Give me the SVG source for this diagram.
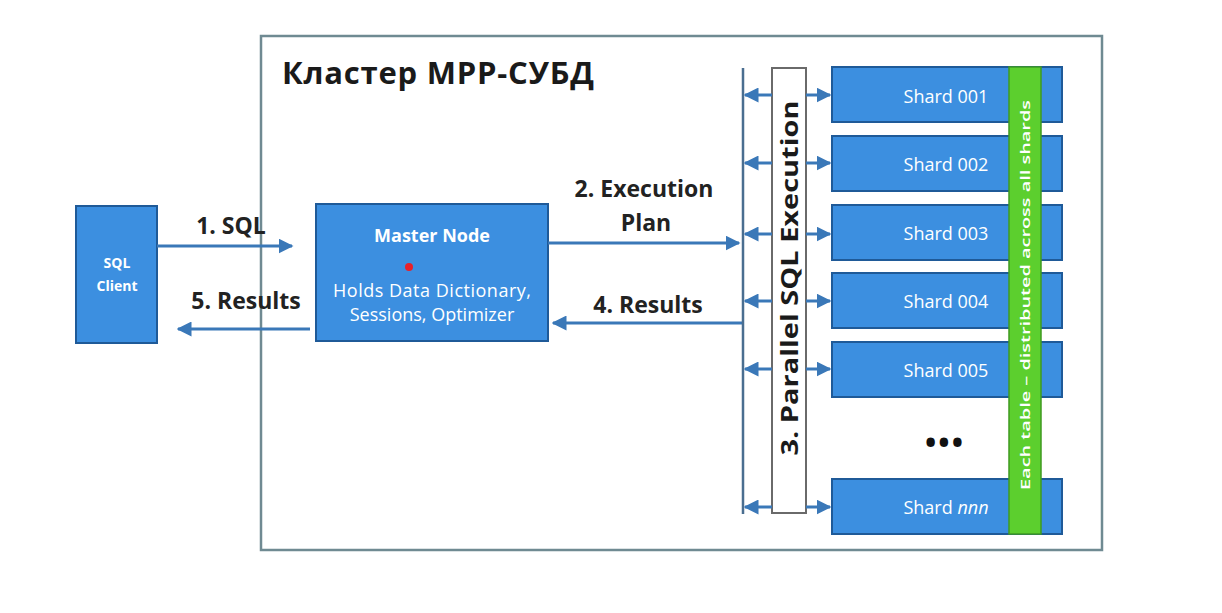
<svg xmlns="http://www.w3.org/2000/svg" width="1222" height="613" viewBox="0 0 1222 613">
<defs>
<style>
.node{fill:#3c8fe0;stroke:#1f5a98;stroke-width:2}
.wt{fill:#ffffff;font-family:"Open Sans","Noto Sans",sans-serif;text-anchor:middle}
.lbl{fill:#222;font-family:"Open Sans","Noto Sans",sans-serif;font-weight:700;font-size:23px;text-anchor:middle}
.conn{stroke:#3a78b8;stroke-width:3;fill:none}
.bus{stroke:#4a6e90;stroke-width:2.5;fill:none}
</style>
<marker id="ah" viewBox="0 0 10 10" refX="9" refY="5" markerWidth="5" markerHeight="5" orient="auto-start-reverse" markerUnits="strokeWidth">
<path d="M0,0 L10,5 L0,10 z" fill="#3a78b8"/>
</marker>
</defs>
<rect width="1222" height="613" fill="#ffffff"/>
<g id="cluster">
<rect x="261" y="36" width="841" height="514" fill="#ffffff" stroke="#6f8a92" stroke-width="2.5"/>
<text x="282" y="84" fill="#1a1a1a" font-family="Open Sans, Noto Sans, sans-serif" font-weight="700" font-size="31" textLength="312">Кластер MPP-СУБД</text>
</g>
<g id="sql-client">
<rect class="node" x="76" y="206" width="81" height="137"/>
<text class="wt" x="117" y="268" font-size="14" font-weight="700">SQL</text>
<text class="wt" x="117" y="291" font-size="14" font-weight="700">Client</text>
</g>
<g id="master-node">
<rect class="node" x="316" y="204" width="232" height="137"/>
<text class="wt" x="432" y="242" font-size="18" font-weight="700">Master Node</text>
<circle cx="409" cy="267" r="4" fill="#e8202a"/>
<text class="wt" x="432" y="297" font-size="18" textLength="198">Holds Data Dictionary,</text>
<text class="wt" x="432" y="321" font-size="18">Sessions, Optimizer</text>
</g>
<g id="parallel-exec">
<rect x="772" y="68" width="34" height="445" fill="#ffffff" stroke="#6a6a6a" stroke-width="2"/>
<text transform="translate(798,278) rotate(-90)" fill="#1a1a1a" font-family="Open Sans, Noto Sans, sans-serif" font-weight="700" font-size="23" text-anchor="middle" textLength="355" lengthAdjust="spacingAndGlyphs">3. Parallel SQL Execution</text>
</g>
<g id="shard-001"><rect class="node" x="832" y="67" width="230" height="55"/><text class="wt" x="946" y="103" font-size="18">Shard 001</text></g>
<g id="shard-002"><rect class="node" x="832" y="136" width="230" height="55"/><text class="wt" x="946" y="171" font-size="18">Shard 002</text></g>
<g id="shard-003"><rect class="node" x="832" y="205" width="230" height="55"/><text class="wt" x="946" y="240" font-size="18">Shard 003</text></g>
<g id="shard-004"><rect class="node" x="832" y="273" width="230" height="55"/><text class="wt" x="946" y="308" font-size="18">Shard 004</text></g>
<g id="shard-005"><rect class="node" x="832" y="342" width="230" height="55"/><text class="wt" x="946" y="377" font-size="18">Shard 005</text></g>
<g id="ellipsis"><text x="945" y="453" fill="#111" font-family="Open Sans, Noto Sans, sans-serif" font-weight="700" font-size="30" letter-spacing="2" text-anchor="middle">•••</text></g>
<g id="shard-nnn"><rect class="node" x="832" y="479" width="230" height="55"/><text class="wt" x="946" y="514" font-size="18">Shard <tspan font-style="italic">nnn</tspan></text></g>
<g id="distribution-bar">
<rect x="1009" y="67" width="32" height="467" fill="#5ccf2e" stroke="#3f9a20" stroke-width="1.5"/>
<text transform="translate(1030,295) rotate(-90)" class="wt" font-size="13" font-weight="600" textLength="390" lengthAdjust="spacingAndGlyphs">Each table – distributed across all shards</text>
</g>
<g id="connectors">
<line class="conn" x1="157" y1="246" x2="292" y2="246" marker-end="url(#ah)"/>
<line class="conn" x1="310" y1="329" x2="178" y2="329" marker-end="url(#ah)"/>
<line class="conn" x1="548" y1="243" x2="739" y2="243" marker-end="url(#ah)"/>
<line class="conn" x1="742" y1="323" x2="553" y2="323" marker-end="url(#ah)"/>
<line class="bus" x1="743" y1="68" x2="743" y2="514"/>
<g>
<line class="conn" x1="772" y1="95" x2="745" y2="95" marker-end="url(#ah)"/>
<line class="conn" x1="806" y1="95" x2="830" y2="95" marker-end="url(#ah)"/>
<line class="conn" x1="772" y1="163" x2="745" y2="163" marker-end="url(#ah)"/>
<line class="conn" x1="806" y1="163" x2="830" y2="163" marker-end="url(#ah)"/>
<line class="conn" x1="772" y1="234" x2="745" y2="234" marker-end="url(#ah)"/>
<line class="conn" x1="806" y1="234" x2="830" y2="234" marker-end="url(#ah)"/>
<line class="conn" x1="772" y1="301" x2="745" y2="301" marker-end="url(#ah)"/>
<line class="conn" x1="806" y1="301" x2="830" y2="301" marker-end="url(#ah)"/>
<line class="conn" x1="772" y1="369" x2="745" y2="369" marker-end="url(#ah)"/>
<line class="conn" x1="806" y1="369" x2="830" y2="369" marker-end="url(#ah)"/>
<line class="conn" x1="772" y1="507" x2="745" y2="507" marker-end="url(#ah)"/>
<line class="conn" x1="806" y1="507" x2="830" y2="507" marker-end="url(#ah)"/>
</g>
</g>
<g id="labels">
<text class="lbl" x="231" y="234">1. SQL</text>
<text class="lbl" x="246" y="309">5. Results</text>
<text class="lbl" x="644" y="197">2. Execution</text>
<text class="lbl" x="646" y="231">Plan</text>
<text class="lbl" x="648" y="313">4. Results</text>
</g>
</svg>
